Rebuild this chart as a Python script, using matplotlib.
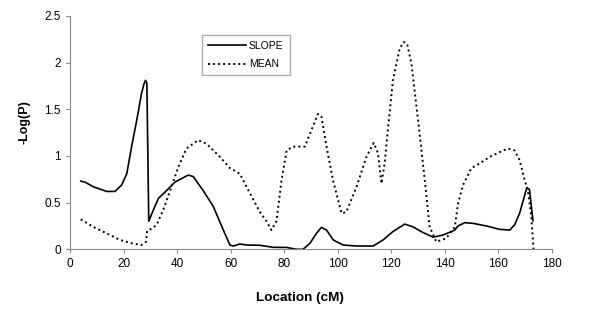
import numpy as np
import matplotlib.pyplot as plt

plt.rcParams['font.family'] = ['Liberation Sans', 'DejaVu Sans']

# SLOPE curve (location in cM, -log(P))
slope_x = [4, 5.6, 8.7, 13.7, 16.8, 19.3, 21.2, 23, 24.9, 26.7, 27.6, 28.2, 28.7, 29.1, 29.4,
           30.1, 31.7, 33, 36.1, 39.2, 44.1, 46, 49.7, 53.5, 57.2, 59.7, 61, 63.4,
           65.9, 70.9, 75.9, 80.9, 84.6, 87, 89.6, 92, 93.9, 95.8, 98.3, 102, 107,
           113.2, 116.9, 120.6, 125, 128.1, 131.8, 135.6, 139.3, 143.7, 144.9, 147.4,
           150.5, 155.5, 160.4, 164.2, 166, 167.9, 169.8, 170.6, 171.6, 172.3, 172.9]
slope_y = [0.73, 0.72, 0.67, 0.62, 0.62, 0.69, 0.81, 1.10, 1.38, 1.67, 1.77, 1.81, 1.78, 0.95, 0.30,
           0.35, 0.46, 0.545, 0.63, 0.72, 0.795, 0.78, 0.63, 0.46, 0.21, 0.046, 0.035, 0.057,
           0.046, 0.043, 0.021, 0.02, 0.0, 0.0, 0.064, 0.17, 0.235, 0.206, 0.1, 0.046, 0.035,
           0.035, 0.1, 0.19, 0.27, 0.24, 0.18, 0.13, 0.153, 0.206, 0.25, 0.285,
           0.278, 0.25, 0.214, 0.206, 0.26, 0.385, 0.58, 0.66, 0.64, 0.455, 0.306]

# MEAN curve
mean_x = [4, 8.7, 13.7, 18.7, 23, 26.7, 28.4, 28.8, 30.5, 32.3, 34.8, 37.9, 40.4, 43.5,
          47.9, 51, 56, 59.7, 63.4, 67.2, 70.9, 73.4, 75.2, 77.1, 79, 80.9, 83.3, 87.7,
          90.2, 92.6, 93.9, 95.8, 98.2, 101.4, 103.2, 107, 110.7, 113.4, 115, 116.3,
          117.5, 118.8, 120.6, 123.1, 124.6, 125.9, 127.5, 130, 132.5, 134.3, 136.8,
          140.5, 143.7, 144.9, 146.8, 149.9, 153, 156.7, 160.4, 163.5, 166, 167.9,
          169.8, 171, 172.3, 173.1]
mean_y = [0.32, 0.24, 0.17, 0.1, 0.064, 0.046, 0.08, 0.2, 0.22, 0.26, 0.42, 0.67, 0.88, 1.08,
          1.17, 1.13, 0.99, 0.87, 0.81, 0.6, 0.4, 0.3, 0.206, 0.3, 0.74, 1.06, 1.1, 1.1,
          1.28, 1.45, 1.42, 1.1, 0.74, 0.385, 0.4, 0.67, 0.99, 1.14, 1.03, 0.705,
          0.92, 1.31, 1.81, 2.15, 2.22, 2.2, 1.99, 1.38, 0.74, 0.24, 0.08,
          0.118, 0.24, 0.49, 0.69, 0.87, 0.92, 0.99, 1.04, 1.08, 1.06, 0.955,
          0.74, 0.63, 0.35, 0.0]

fig = plt.figure(figsize=(6, 3.19), dpi=100)
ax = fig.add_axes([0.1167, 0.2185, 0.8033, 0.7315])

ax.plot(slope_x, slope_y, color='black', linewidth=1.2, label='SLOPE')
ax.plot(mean_x, mean_y, color='black', linewidth=1.4, linestyle=(0, (1, 1.6)), label='MEAN')

ax.set_xlim(0, 180)
ax.set_ylim(0, 2.5)
ax.set_xticks(np.arange(0, 181, 20))
ax.set_yticks([0, 0.5, 1, 1.5, 2, 2.5])
ax.set_yticklabels(['0', '0.5', '1', '1.5', '2', '2.5'])

for s in ['top', 'right']:
    ax.spines[s].set_visible(False)
for s in ['left', 'bottom']:
    ax.spines[s].set_color('#888888')
    ax.spines[s].set_linewidth(0.8)
ax.tick_params(colors='#888888', labelcolor='black', labelsize=8.5, length=3, width=0.8)

# axis titles, placed like the original (x title a bit left of centre)
ax.set_xlabel('Location (cM)', fontsize=9.7, fontweight='bold')
ax.xaxis.set_label_coords(0.477, -0.185)
ax.set_ylabel('-Log(P)', fontsize=9, fontweight='bold')
ax.yaxis.set_label_coords(-0.081, 0.545)

leg = ax.legend(loc='upper left', bbox_to_anchor=(0.274, 0.92), fontsize=7.5,
                frameon=True, fancybox=False, handlelength=3.6, handletextpad=0.3,
                borderpad=0.6, labelspacing=0.8, borderaxespad=0)
leg.get_frame().set_edgecolor('#999999')
leg.get_frame().set_linewidth(1.0)

plt.savefig('out.png', dpi=100)
